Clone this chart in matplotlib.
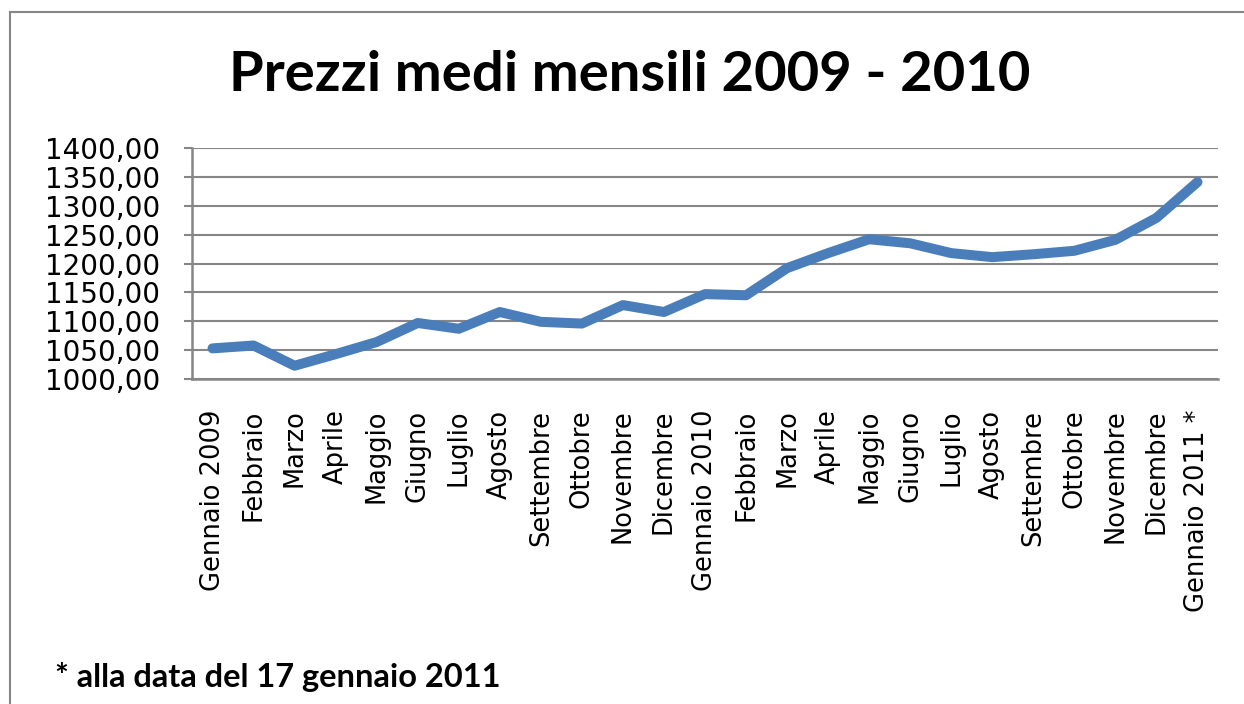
import matplotlib
matplotlib.use("Agg")
import matplotlib.pyplot as plt
from matplotlib.lines import Line2D

# monthly average prices, Jan 2009 .. Jan 2011
months = ["Gennaio 2009", "Febbraio", "Marzo", "Aprile", "Maggio", "Giugno",
          "Luglio", "Agosto", "Settembre", "Ottobre", "Novembre", "Dicembre",
          "Gennaio 2010", "Febbraio", "Marzo", "Aprile", "Maggio", "Giugno",
          "Luglio", "Agosto", "Settembre", "Ottobre", "Novembre", "Dicembre",
          "Gennaio 2011 *"]
prices = [1053, 1058, 1023, 1043, 1064, 1097, 1087, 1116, 1099, 1096, 1128, 1116,
          1147, 1145, 1192, 1218, 1242, 1235, 1218, 1211, 1216, 1222, 1241, 1279,
          1341]
yticks = [1000, 1050, 1100, 1150, 1200, 1250, 1300, 1350, 1400]

W, H = 1244, 704
fig = plt.figure(figsize=(W / 100, H / 100), dpi=100)
ax = fig.add_axes([192 / W, 1 - 379 / H, (1218 - 192) / W, (379 - 148) / H])

x = list(range(len(months)))
ax.plot(x, prices, color="#4A7EBB", lw=7.2, solid_capstyle="round",
        solid_joinstyle="round", zorder=3)

ax.set_xlim(-0.5, len(months) - 0.5)
ax.set_ylim(1000, 1400)
ax.set_yticks(yticks)
ax.set_yticklabels(["%d,00" % v for v in yticks])
ax.set_xticks(x)
ax.set_xticklabels(months, rotation=90, va="top", ha="center")

gray = "#868686"
ax.yaxis.grid(True, color=gray, lw=1.5)
ax.set_axisbelow(True)
for s in ["top", "right"]:
    ax.spines[s].set_visible(False)
ax.spines["left"].set_color(gray)
ax.spines["left"].set_linewidth(1.8)
ax.spines["bottom"].set_color(gray)
ax.spines["bottom"].set_linewidth(1.8)
ax.tick_params(axis="y", length=6, width=1.5, color=gray, pad=17,
               labelsize=20)
ax.tick_params(axis="x", length=0, pad=22, labelsize=18.5)

fig.text(630 / W, 1 - 75 / H, "Prezzi medi mensili 2009 - 2010",
         family="Lato", weight="bold", fontsize=40.5, ha="center", va="center")
fig.text(55 / W, 1 - 677 / H, "* alla data del 17 gennaio 2011",
         family="Lato", weight="bold", fontsize=23.5, ha="left", va="center")

# outer chart frame
fig.add_artist(Line2D([9.5 / W, 9.5 / W], [0, 1 - 12 / H], color=gray, lw=1.5))
fig.add_artist(Line2D([9.5 / W, 1], [1 - 12 / H, 1 - 12 / H], color=gray, lw=1.5))

fig.savefig("out.png", dpi=100)
